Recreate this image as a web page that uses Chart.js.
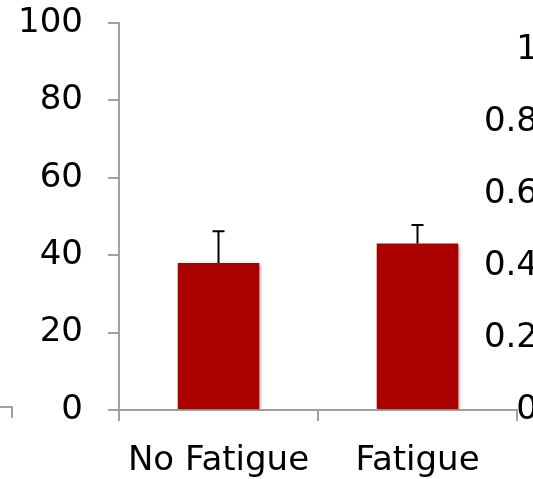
<!DOCTYPE html>
<html>
<head>
<meta charset="utf-8">
<script src="https://cdn.jsdelivr.net/npm/chart.js@4"></script>
<style>
  html, body { margin: 0; padding: 0; background: #fff; overflow: hidden; }
  #wrap { width: 533px; height: 479px; position: relative; }
</style>
</head>
<body>
<div id="wrap"><canvas id="bar-chart"></canvas></div>
<script>
// data
var groups = ["No Fatigue", "Fatigue"];
var means = [38, 43];
var errors = [8.2, 4.8];
var leftTicks = [0, 20, 40, 60, 80, 100];
var rightTicks = [0, 0.2, 0.4, 0.6, 0.8, 1];

var axisGrey = "#a0a0a0";
var font = { family: "DejaVu Sans", size: 34 };

// bar shadow + error bars (plus side only)
var errorBars = {
    id: "errorBars",
    beforeDatasetDraw: function(chart) {
        var ctx = chart.ctx;
        ctx.save();
        ctx.shadowColor = "rgba(0,0,0,0.35)";
        ctx.shadowBlur = 3;
        ctx.shadowOffsetX = 2;
        ctx.shadowOffsetY = 1;
    },
    afterDatasetDraw: function(chart) {
        chart.ctx.restore();
    },
    afterDatasetsDraw: function(chart) {
        var ctx = chart.ctx;
        var y = chart.scales.y;
        var meta = chart.getDatasetMeta(0);
        ctx.save();
        ctx.strokeStyle = "#000";
        ctx.lineWidth = 2;
        meta.data.forEach(function(bar, i) {
            var top = y.getPixelForValue(means[i] + errors[i]);
            ctx.beginPath();
            ctx.moveTo(bar.x, bar.y);
            ctx.lineTo(bar.x, top);
            ctx.moveTo(bar.x - 6, top);
            ctx.lineTo(bar.x + 6, top);
            ctx.stroke();
        });
        ctx.restore();
    },
    afterDraw: function(chart) {
        // corner of the neighbouring chart peeking in at the left edge
        var ctx = chart.ctx;
        ctx.save();
        ctx.strokeStyle = axisGrey;
        ctx.lineWidth = 2;
        ctx.beginPath();
        ctx.moveTo(0, 407);
        ctx.lineTo(12, 407);
        ctx.lineTo(12, 418);
        ctx.stroke();
        ctx.restore();
    }
};

function noVerticalPadding(scale) {
    scale.paddingTop = 0;
    scale.paddingBottom = 0;
}

new Chart(document.getElementById("bar-chart"), {
    type: "bar",
    data: {
        labels: groups,
        datasets: [{
            data: means,
            backgroundColor: "#aa0000",
            borderWidth: 0,
            barPercentage: 0.41,
            categoryPercentage: 1
        }]
    },
    options: {
        responsive: true,
        maintainAspectRatio: false,
        animation: false,
        layout: { padding: { top: 23, left: 0, right: 0, bottom: 0 } },
        plugins: { legend: { display: false }, tooltip: { enabled: false } },
        scales: {
            x: {
                grid: { offset: true, drawOnChartArea: false, tickLength: 11, color: axisGrey, lineWidth: 2 },
                border: { color: axisGrey, width: 2 },
                ticks: { font: font, color: "#000", padding: 20, maxRotation: 0 },
                afterFit: function(scale) { scale.height = 69; }
            },
            y: {
                position: "left",
                min: 0,
                max: 100,
                afterBuildTicks: function(scale) {
                    scale.ticks = leftTicks.map(function(v) { return { value: v }; });
                },
                grid: { drawOnChartArea: false, tickLength: 11, color: axisGrey, lineWidth: 2 },
                border: { color: axisGrey, width: 2 },
                ticks: { font: font, color: "#000", padding: 25 },
                afterFit: function(scale) { scale.width = 119; noVerticalPadding(scale); }
            },
            y2: {
                position: "right",
                min: 0,
                max: 1.075,
                afterBuildTicks: function(scale) {
                    scale.ticks = rightTicks.map(function(v) { return { value: v }; });
                },
                grid: { display: false },
                border: { display: false },
                ticks: {
                    font: font, color: "#000", mirror: true, padding: 21,
                    callback: function(v) { return String(v); }
                },
                afterFit: function(scale) { scale.width = 16; noVerticalPadding(scale); }
            }
        }
    },
    plugins: [errorBars]
});
</script>
</body>
</html>
